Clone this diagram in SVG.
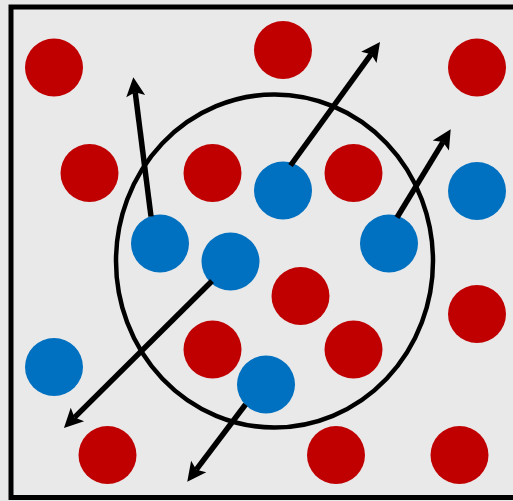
<svg xmlns="http://www.w3.org/2000/svg" width="513" height="501" viewBox="0 0 513 501">
<style>
.r{fill:#c00000}
.b{fill:#0070c0}
.a{stroke:#000;stroke-width:5.5;fill:none;marker-end:url(#ah)}
</style>
<defs>
<marker id="ah" markerUnits="userSpaceOnUse" markerWidth="40" markerHeight="40" refX="0" refY="0" orient="auto" overflow="visible" viewBox="-20 -20 40 40">
<path d="M15,0 L-4,-9.5 L0,0 L-4,9.5 Z" fill="#000"/>
</marker>
</defs>
<rect x="0" y="0" width="513" height="501" fill="#e8e8e8"/>
<rect id="frame" x="11" y="7" width="512" height="490.5" fill="#e9e9e9" stroke="#000" stroke-width="5"/>
<g id="region"><ellipse cx="274.5" cy="261" rx="158.5" ry="166.5" fill="none" stroke="#000" stroke-width="4.5"/></g>
<g id="r1"><circle class="r" cx="54" cy="67.5" r="29"/></g>
<g id="r2"><circle class="r" cx="283" cy="50" r="29"/></g>
<g id="r3"><circle class="r" cx="477" cy="67.5" r="29"/></g>
<g id="r4"><circle class="r" cx="89.5" cy="173" r="29"/></g>
<g id="r5"><circle class="r" cx="212.5" cy="173" r="29"/></g>
<g id="r6"><circle class="r" cx="353.5" cy="173" r="29"/></g>
<g id="r7"><circle class="r" cx="300.5" cy="296" r="29"/></g>
<g id="r8"><circle class="r" cx="212.5" cy="349.5" r="29"/></g>
<g id="r9"><circle class="r" cx="353.5" cy="349.5" r="29"/></g>
<g id="r10"><circle class="r" cx="477" cy="314" r="29"/></g>
<g id="r11"><circle class="r" cx="107.5" cy="455" r="29"/></g>
<g id="r12"><circle class="r" cx="336" cy="455" r="29"/></g>
<g id="r13"><circle class="r" cx="459.5" cy="455" r="29"/></g>
<g id="b1"><circle class="b" cx="160" cy="243.5" r="29"/></g>
<g id="b2"><circle class="b" cx="230.5" cy="261.5" r="29"/></g>
<g id="b3"><circle class="b" cx="283" cy="190.5" r="29"/></g>
<g id="b4"><circle class="b" cx="389" cy="243.5" r="29"/></g>
<g id="b5"><circle class="b" cx="477" cy="191" r="29"/></g>
<g id="b6"><circle class="b" cx="54" cy="367" r="29"/></g>
<g id="b7"><circle class="b" cx="266" cy="384.5" r="29"/></g>
<g id="connectors">
<line class="a" x1="151" y1="216.5" x2="135.2" y2="92.2"/>
<line class="a" x1="290.5" y1="165.5" x2="371.2" y2="54.2"/>
<line class="a" x1="397" y1="217.5" x2="442.9" y2="142.1"/>
<line class="a" x1="212" y1="281" x2="74.6" y2="417.4"/>
<line class="a" x1="245.5" y1="404.5" x2="196.3" y2="469.7"/>
</g>
</svg>
